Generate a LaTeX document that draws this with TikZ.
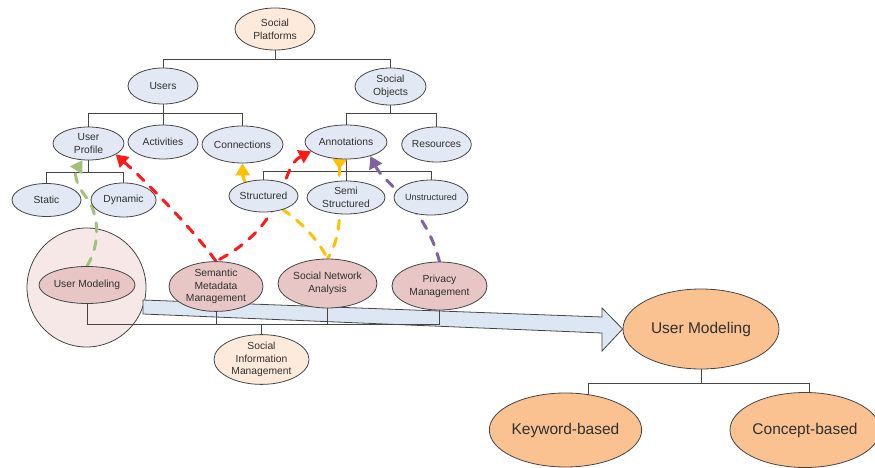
\documentclass[tikz,border=0pt]{standalone}
\usepackage{fontspec}
\setmainfont{Liberation Sans}
\usetikzlibrary{arrows.meta,shapes.geometric,calc}
\pgfdeclarelayer{bg}
\pgfdeclarelayer{mid}
\pgfsetlayers{bg,mid,main}
\definecolor{linec}{HTML}{454545}
\definecolor{txt}{HTML}{303030}
\definecolor{nb}{HTML}{E3E9F4}
\definecolor{npeach}{HTML}{FDEADA}
\definecolor{npink}{HTML}{E8C6C6}
\definecolor{circf}{HTML}{F7E8E8}
\definecolor{norange}{HTML}{FAC191}
\definecolor{arrf}{HTML}{DDE7F3}
\definecolor{cred}{HTML}{FF1A1A}
\definecolor{cyel}{HTML}{FFC000}
\definecolor{cgreen}{HTML}{A2C27A}
\definecolor{cpur}{HTML}{7F63A1}
\tikzset{
  ov/.style={ellipse, draw=linec, line width=0.8pt, inner sep=0pt, align=center,
    text=txt, font=\fontsize{10.3}{12.8}\selectfont},
  bnode/.style={ov, fill=nb},
  peachnode/.style={ov, fill=npeach},
  pinknode/.style={ov, fill=npink},
  bignode/.style={ov, fill=norange, font=\fontsize{15.5}{18}\selectfont},
  tree/.style={draw=linec, line width=0.8pt},
  dsh/.style={line width=3pt, line cap=round, dash pattern=on 9pt off 9pt},
  tri/.tip={Triangle[width=14pt,length=12pt]},
  trirev/.tip={Triangle[width=14pt,length=10pt,reversed]}
}
\begin{document}
\begin{tikzpicture}[x=1pt,y=-1pt]
\useasboundingbox (0,0) rectangle (875,468);

% top tree
\node[peachnode, minimum width=80pt, minimum height=42pt] (sp) at (275,29) {Social\\Platforms};
\node[bnode, minimum width=70pt, minimum height=36pt] (users) at (163,86) {Users};
\node[bnode, minimum width=71pt, minimum height=37pt] (so) at (390.5,86.5) {Social\\Objects};
\node[bnode, minimum width=71pt, minimum height=33pt] (up) at (88.5,143.5) {User\\Profile};
\node[bnode, minimum width=70pt, minimum height=34pt] (act) at (163,142) {Activities};
\node[bnode, minimum width=81pt, minimum height=37pt] (con) at (242.5,144.5) {Connections};
\node[bnode, minimum width=82pt, minimum height=34pt] (ann) at (346,142) {Annotations};
\node[bnode, minimum width=69pt, minimum height=35pt] (res) at (436.5,144.5) {Resources};
\node[bnode, minimum width=69pt, minimum height=33pt] (st) at (46.5,200) {Static};
\node[bnode, minimum width=65pt, minimum height=34pt] (dyn) at (123.5,200) {Dynamic};
\node[bnode, minimum width=69pt, minimum height=32pt] (str) at (263.5,196) {Structured};
\node[bnode, minimum width=78pt, minimum height=33pt] (semi) at (346,197.5) {Semi\\Structured};
\node[bnode, minimum width=74pt, minimum height=35pt, font=\fontsize{9}{11}\selectfont] (uns) at (431,197.5) {Unstructured};

% bottom row
\node[pinknode, minimum width=96pt, minimum height=37pt] (um) at (87,285) {User Modeling};
\node[pinknode, minimum width=94pt, minimum height=47pt] (sm) at (216,286.5) {Semantic\\Metadata\\Management};
\node[pinknode, minimum width=99pt, minimum height=49pt] (sna) at (327.5,283.5) {Social Network\\Analysis};
\node[pinknode, minimum width=95pt, minimum height=48pt] (pm) at (439.5,286) {Privacy\\Management};
\node[peachnode, minimum width=95pt, minimum height=49pt] (sim) at (261.5,359.5) {Social\\Information\\Management};

% right tree
\node[bignode, minimum width=156pt, minimum height=80pt] (bum) at (701,329) {User Modeling};
\node[bignode, minimum width=101pt, minimum height=74pt] (kw) at (565.5,430) {Keyword-based};
\node[bignode, minimum width=150pt, minimum height=75pt] (cb) at (805,430) {Concept-based};

\coordinate (L1) at (0,59);
\coordinate (L2) at (0,113.5);
\coordinate (L3) at (0,172.5);
\coordinate (L4) at (0,171);
\coordinate (L5) at (0,324);
\coordinate (L6) at (0,383);
\coordinate (kwtop) at (588,402);
\coordinate (cbtop) at (809,402);

\begin{pgfonlayer}{bg}
  \node[circle, draw=linec, line width=0.8pt, fill=circf, minimum size=119pt, inner sep=0pt] (umc) at (86.5,287.5) {};
  \draw[draw=linec, line width=0.8pt, fill=arrf, line join=miter]
    (143,300) -- (602,317) -- (602,308) -- (bum.west) -- (602,351) -- (602,333) -- (143,314) -- cycle;
\end{pgfonlayer}

\begin{pgfonlayer}{mid}
  % tree connectors
  \draw[tree] (sp.south) -- (sp.south |- L1);
  \draw[tree] (users.north) -- (users.north |- L1) -- (so.north |- L1) -- (so.north);
  \draw[tree] (users.south) -- (users.south |- L2);
  \draw[tree] (up.north) -- (up.north |- L2) -- (con.north |- L2) -- (con.north);
  \draw[tree] (act.north) -- (act.north |- L2);
  \draw[tree] (so.south) -- (so.south |- L2);
  \draw[tree] (ann.north) -- (ann.north |- L2) -- (res.north |- L2) -- (res.north);
  \draw[tree] (up.south) -- (up.south |- L3);
  \draw[tree] (st.north) -- (st.north |- L3) -- (dyn.north |- L3) -- (dyn.north);
  \draw[tree] (ann.south) -- (ann.south |- L4);
  \draw[tree] (str.north) -- (str.north |- L4) -- (uns.north |- L4) -- (uns.north);
  \draw[tree] (semi.north) -- (semi.north |- L4);
  \draw[tree] (um.south) -- (um.south |- L5) -- (pm.south |- L5) -- (pm.south);
  \draw[tree] (sm.south) -- (sm.south |- L5);
  \draw[tree] (sna.south) -- (sna.south |- L5);
  \draw[tree] (sim.north) -- (sim.north |- L5);
  \draw[tree] (bum.south) -- (bum.south |- L6);
  \draw[tree] (kwtop) -- (kwtop |- L6) -- (cbtop |- L6) -- (cbtop);

  % dashed relations
  \draw[dsh, cgreen, -tri] (um.north) .. controls (100,245) and (100,215) .. (86,197)
        .. controls (74,182) and (75,172) .. (up.250);
  \draw[dsh, cred, tri-] (up.-22) .. controls (150,185) and (195,232) .. (sm.north);
  \draw[dsh, cred, tri-] (ann.195) .. controls (278,168) and (292,222) .. (sm.north);
  \draw[dsh, cyel, tri-] (con.south) .. controls (243,195) and (300,205) .. (sna.north);
  \draw[dsh, cyel, trirev-] (ann.-110) .. controls (338,200) and (345,232) .. (sna.north);
  \draw[dsh, cpur, tri-] (ann.-30) .. controls (385,185) and (425,205) .. (pm.north);
\end{pgfonlayer}
\end{tikzpicture}
\end{document}
